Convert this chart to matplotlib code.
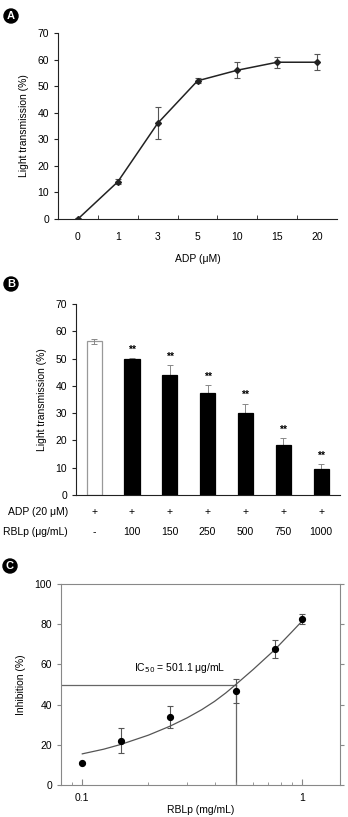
import numpy as np
import matplotlib.pyplot as plt
from matplotlib.transforms import blended_transform_factory
from matplotlib.ticker import NullFormatter, FixedLocator

plt.rcParams['font.family'] = ['Liberation Sans', 'DejaVu Sans']
plt.rcParams['font.size'] = 7.5

# ---- data -----------------------------------------------------------------
# panel A: ADP dose response
adp_labels = ['0', '1', '3', '5', '10', '15', '20']
adp_trans = [0, 14, 36, 52, 56, 59, 59]
adp_err = [0.3, 1, 6, 1, 3, 2, 3]

# panel B: RBLp inhibition of ADP aggregation
rblp_labels = ['-', '100', '150', '250', '500', '750', '1000']
adp_row = ['+', '+', '+', '+', '+', '+', '+']
bar_vals = [56.3, 50, 44, 37.2, 30, 18.2, 9.7]
bar_err = [1, 0.2, 3.6, 3.2, 3.5, 2.6, 1.6]

# panel C: inhibition vs RBLp (mg/mL)
c_x = [0.1, 0.15, 0.25, 0.5, 0.75, 1.0]
c_y = [11, 22, 34, 46.7, 67.5, 82.8]
c_err = [0, 6.2, 5.5, 6, 4.5, 2.5]
# fitted curve
fit_x = [0.1, 0.125, 0.15, 0.2, 0.25, 0.3, 0.35, 0.4, 0.45, 0.5, 0.6, 0.75, 0.9, 1.0]
fit_y = [15.5, 17.8, 20.2, 24.8, 29.2, 33.4, 37.5, 41.6, 45.8, 50, 57.5, 67.2, 76.2, 81.5]
ic50 = 0.501

W, H = 348, 817
fig = plt.figure(figsize=(W / 100, H / 100), dpi=100)


def px_axes(l, t, r, b):
    return fig.add_axes([l / W, 1 - b / H, (r - l) / W, (b - t) / H])


def badge(x, y, letter):
    fig.text(x / W, 1 - y / H, letter, color='white', fontsize=8, fontweight='bold',
             ha='center', va='center',
             bbox=dict(boxstyle='circle,pad=0.18', fc='black', ec='black'))


axcol = '#222222'

# ---- panel A --------------------------------------------------------------
axA = px_axes(58, 33, 337, 219)
xa = np.arange(len(adp_labels))
axA.errorbar(xa, adp_trans, yerr=adp_err, color='#222222', lw=1.1, marker='D',
             ms=3, ecolor='#555555', elinewidth=0.8, capsize=2.5, capthick=0.8)
axA.set_xlim(-0.5, len(adp_labels) - 0.5)
axA.set_ylim(0, 70)
axA.set_yticks(range(0, 71, 10))
axA.set_xticks(xa)
axA.set_xticklabels(adp_labels)
axA.xaxis.set_minor_locator(FixedLocator(xa[:-1] + 0.5))
axA.tick_params(axis='x', which='major', length=0, pad=9)
axA.tick_params(axis='x', which='minor', length=3, direction='in', color=axcol)
axA.tick_params(axis='y', length=3, direction='out', color=axcol)
for s in ['top', 'right']:
    axA.spines[s].set_visible(False)
for s in ['left', 'bottom']:
    axA.spines[s].set_color(axcol)
axA.set_ylabel('Light transmission (%)', labelpad=6)
axA.set_xlabel('ADP (\u03bcM)', labelpad=9)
badge(11, 16, 'A')

# ---- panel B --------------------------------------------------------------
axB = px_axes(76, 304, 340, 495)
xb = np.arange(len(bar_vals))
colors = ['white'] + ['black'] * (len(bar_vals) - 1)
edges = ['#999999'] + ['black'] * (len(bar_vals) - 1)
axB.bar(xb, bar_vals, width=0.4, color=colors, edgecolor=edges, lw=0.9, zorder=2)
# white bar has a two-sided error bar, black bars only upward
axB.errorbar(xb[:1], bar_vals[:1], yerr=bar_err[:1], fmt='none', ecolor='#888888',
             elinewidth=0.7, capsize=2, capthick=0.7, zorder=3)
axB.errorbar(xb[1:], bar_vals[1:], yerr=[np.zeros(len(xb) - 1), bar_err[1:]],
             fmt='none', ecolor='#888888', elinewidth=0.7, capsize=2, capthick=0.7,
             zorder=1)
for x, v, e in zip(xb[1:], bar_vals[1:], bar_err[1:]):
    axB.text(x, v + e + 1.2, '**', ha='center', va='bottom', fontsize=7.5,
             fontweight='bold')
axB.set_xlim(-0.48, len(bar_vals) - 0.5)
axB.set_ylim(0, 70)
axB.set_yticks(range(0, 71, 10))
axB.set_xticks([])
axB.tick_params(axis='y', length=3, direction='out', color=axcol)
for s in ['top', 'right']:
    axB.spines[s].set_visible(False)
for s in ['left', 'bottom']:
    axB.spines[s].set_color(axcol)
axB.set_ylabel('Light transmission (%)', labelpad=6)
tr = blended_transform_factory(axB.transData, axB.transAxes)
row1 = -(512 - 495) / (495 - 304)
row2 = -(532 - 495) / (495 - 304)
for x, a, r in zip(xb, adp_row, rblp_labels):
    axB.text(x, row1, a, transform=tr, ha='center', va='center')
    axB.text(x, row2, r, transform=tr, ha='center', va='center')
fig.text(68 / W, 1 - 512 / H, 'ADP (20 \u03bcM)', ha='right', va='center')
fig.text(68 / W, 1 - 532 / H, 'RBLp (\u03bcg/mL)', ha='right', va='center')
badge(11, 284, 'B')

# ---- panel C --------------------------------------------------------------
axC = px_axes(61, 584, 340, 785)
axC.set_xscale('log')
axC.plot(fit_x, fit_y, color='#555555', lw=0.9, zorder=2)
axC.errorbar(c_x, c_y, yerr=c_err, fmt='o', color='black', ms=4.2,
             ecolor='#555555', elinewidth=0.8, capsize=2.5, capthick=0.8, zorder=3)
axC.plot([0.08, ic50], [50, 50], color='#666666', lw=0.9, zorder=1)
axC.plot([ic50, ic50], [0, 50], color='#666666', lw=0.9, zorder=1)
axC.text(0.172, 58, 'IC$_{50}$ = 501.1 \u03bcg/mL', ha='left', va='center')
axC.set_xlim(0.08, 1.49)
axC.set_ylim(0, 100)
axC.set_yticks(range(0, 101, 20))
axC.set_xticks([0.1, 1])
axC.set_xticklabels(['0.1', '1'])
axC.xaxis.set_minor_locator(FixedLocator([0.09, 0.2, 0.3, 0.4, 0.5, 0.6, 0.7,
                                          0.8, 0.9]))
axC.xaxis.set_minor_formatter(NullFormatter())
axC.tick_params(axis='x', which='major', length=4, direction='in', color='#888888',
                pad=6)
axC.tick_params(axis='x', which='minor', length=2.5, direction='in', color='#888888')
axC.tick_params(axis='y', length=3, direction='out', color='#888888', right=True)
for s in axC.spines.values():
    s.set_color('#888888')
axC.set_ylabel('Inhibition (%)', labelpad=6)
# x label sits at the very bottom edge, as in the reference
fig.text((61 + 340) / 2 / W, 1 - 810 / H, 'RBLp (mg/mL)', ha='center', va='center')
badge(10, 566, 'C')

fig.savefig('out.png', dpi=100, facecolor='white')
